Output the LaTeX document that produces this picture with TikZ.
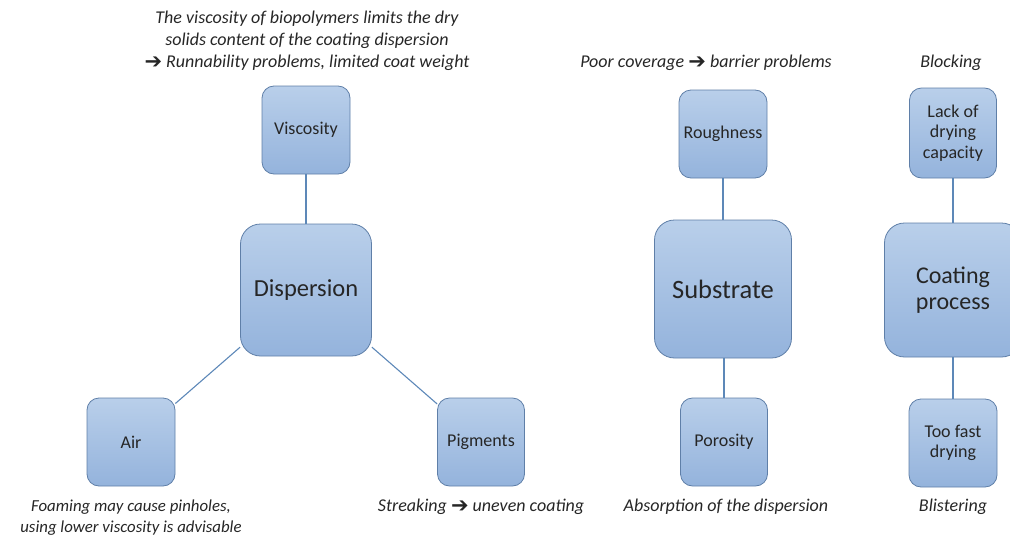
\documentclass[tikz,border=0pt]{standalone}
\usepackage{fontspec}
\setmainfont{Carlito}
\newfontfamily\arrowfont{DejaVu Sans}
\newcommand{\rarr}{{\arrowfont\fontsize{21}{21}\selectfont\raisebox{-0.5pt}{➔}}}
\begin{document}
\begin{tikzpicture}[x=1pt,y=-1pt,
  box/.style={draw=boxline,line width=0.8pt,top color=boxtop,bottom color=boxbot,rounded corners=12pt,
    text=textc,align=center,inner sep=0pt,font=\fontsize{18}{20.5}\selectfont},
  small/.style={box,minimum width=88pt,minimum height=88pt},
  big/.style={box,minimum width=134pt,minimum height=136pt,rounded corners=20pt},
  conn/.style={draw=connc,line width=1.1pt},
  note/.style={text=textc,align=center,inner sep=0pt,font=\fontsize{18}{22}\selectfont\itshape}]
\definecolor{boxtop}{HTML}{B9CFEA}
\definecolor{boxbot}{HTML}{94B3DC}
\definecolor{boxline}{HTML}{5F7FA8}
\definecolor{connc}{HTML}{5D88B8}
\definecolor{textc}{HTML}{262626}
\useasboundingbox (0,0) rectangle (1010,538);
\clip (0,0) rectangle (1010,538);
% nodes
\node[small] (visc) at (306,130) {Viscosity};
\node[big,minimum width=131pt,minimum height=132pt,font=\fontsize{24.5}{26}\selectfont] (disp) at (306,290) {Dispersion};
\node[small] (air) at (131,442) {Air};
\node[small,minimum width=87pt] (pig) at (481,442) {Pigments};
\node[small] (rough) at (723,134) {Roughness};
\node[big,minimum width=137pt,minimum height=138pt,font=\fontsize{26.5}{28}\selectfont] (subs) at (723,289) {Substrate};
\node[small,minimum width=87pt] (poro) at (724,442) {Porosity};
\node[small,minimum width=87pt,minimum height=90pt] (lack) at (953,133) {Lack of\\drying\\capacity};
\node[big,minimum width=137pt,minimum height=134pt,font=\fontsize{24}{26}\selectfont] (coat) at (953,290) {Coating\\process};
\node[small,minimum width=88pt] (fast) at (953,443) {Too fast\\drying};
% connectors
\draw[conn] (visc) -- (disp);
\draw[conn] (disp) -- (air);
\draw[conn] (disp) -- (pig);
\draw[conn] (rough.south) -- (rough.south |- subs.north);
\draw[conn] (poro.north) -- (poro.north |- subs.south);
\draw[conn] (lack) -- (coat);
\draw[conn] (coat) -- (fast);
% notes
\node[note] (n1) at (307,41) {The viscosity of biopolymers limits the dry\\solids content of the coating dispersion\\\rarr\ Runnability problems, limited coat weight};
\node[note] (n2) at (706,63) {Poor coverage \rarr\ barrier problems};
\node[note] (n3) at (951,63) {Blocking};
\node[note,font=\fontsize{16.8}{21}\selectfont\itshape] (n4) at (131,518) {Foaming may cause pinholes,\\using lower viscosity is advisable};
\node[note] (n5) at (481,507) {Streaking \rarr\ uneven coating};
\node[note] (n6) at (726,507) {Absorption of the dispersion};
\node[note] (n7) at (953,507) {Blistering};
\end{tikzpicture}
\end{document}
